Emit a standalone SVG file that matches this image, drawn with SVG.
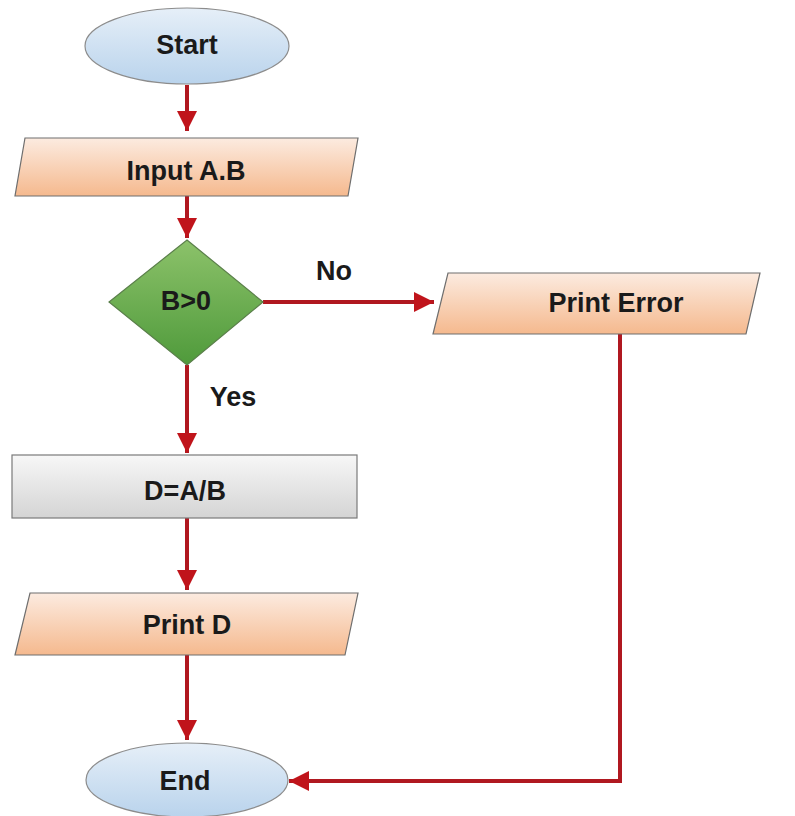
<svg xmlns="http://www.w3.org/2000/svg" width="795" height="816" viewBox="0 0 795 816">
<defs>
<linearGradient id="gBlue" x1="0" y1="0" x2="0" y2="1"><stop offset="0" stop-color="#e6eff8"/><stop offset="1" stop-color="#b9d3ec"/></linearGradient>
<linearGradient id="gPeach" x1="0" y1="0" x2="0" y2="1"><stop offset="0" stop-color="#fcebe0"/><stop offset="1" stop-color="#f5b98e"/></linearGradient>
<linearGradient id="gGreen" x1="0" y1="0" x2="0" y2="1"><stop offset="0" stop-color="#8cc26a"/><stop offset="1" stop-color="#4f9a3b"/></linearGradient>
<linearGradient id="gGray" x1="0" y1="0" x2="0" y2="1"><stop offset="0" stop-color="#f7f7f7"/><stop offset="1" stop-color="#d4d4d4"/></linearGradient>
<marker id="ah" viewBox="0 0 10 10" refX="10" refY="5" markerWidth="5" markerHeight="5.5" markerUnits="strokeWidth" orient="auto">
<path d="M0,0 L10,5 L0,10 z" fill="#c0141b"/>
</marker>
</defs>
<style>
.lbl{font-family:"Liberation Sans",Arial,sans-serif;font-weight:bold;font-size:27px;fill:#1a1a1a;text-anchor:middle;dominant-baseline:central}
.ell{fill:url(#gBlue);stroke:#8c8c8c;stroke-width:1.2}
.para{fill:url(#gPeach);stroke:#6e6e6e;stroke-width:1.2}
.conn{fill:none;stroke:#b01820;stroke-width:4;marker-end:url(#ah)}
</style>
<rect width="795" height="816" fill="#ffffff"/>
<g id="connectors">
<line class="conn" x1="187" y1="85" x2="187" y2="131"/>
<line class="conn" x1="187" y1="196" x2="187" y2="238"/>
<line class="conn" x1="263" y1="302" x2="434" y2="302"/>
<line class="conn" x1="187" y1="365" x2="187" y2="453"/>
<line class="conn" x1="187" y1="518" x2="187" y2="590"/>
<line class="conn" x1="187" y1="655" x2="187" y2="740"/>
<polyline class="conn" points="620,325 620,781 289,781"/>
</g>
<g id="start"><ellipse class="ell" cx="187" cy="46" rx="102" ry="38"/><text class="lbl" x="187" y="45">Start</text></g>
<g id="input"><polygon class="para" points="25,138 358,138 348,196 15,196"/><text class="lbl" x="186" y="171">Input A.B</text></g>
<g id="decision"><polygon points="187,240 263,302 187,365 109,302" fill="url(#gGreen)" stroke="#5a7f4a" stroke-width="1.2"/><text class="lbl" x="186" y="301">B&gt;0</text></g>
<g id="labelNo"><text class="lbl" x="334" y="271">No</text></g>
<g id="labelYes"><text class="lbl" x="233" y="397">Yes</text></g>
<g id="printError"><polygon class="para" points="448,273 760,273 746,334 433,334"/><text class="lbl" x="616" y="303">Print Error</text></g>
<g id="compute"><rect x="12" y="455" width="345" height="63" fill="url(#gGray)" stroke="#7a7a7a" stroke-width="1.2"/><text class="lbl" x="185" y="491">D=A/B</text></g>
<g id="printD"><polygon class="para" points="30,593 358,593 345,655 15,655"/><text class="lbl" x="187" y="625">Print D</text></g>
<g id="end"><ellipse class="ell" cx="187" cy="780" rx="101" ry="37"/><text class="lbl" x="185" y="781">End</text></g>
</svg>
